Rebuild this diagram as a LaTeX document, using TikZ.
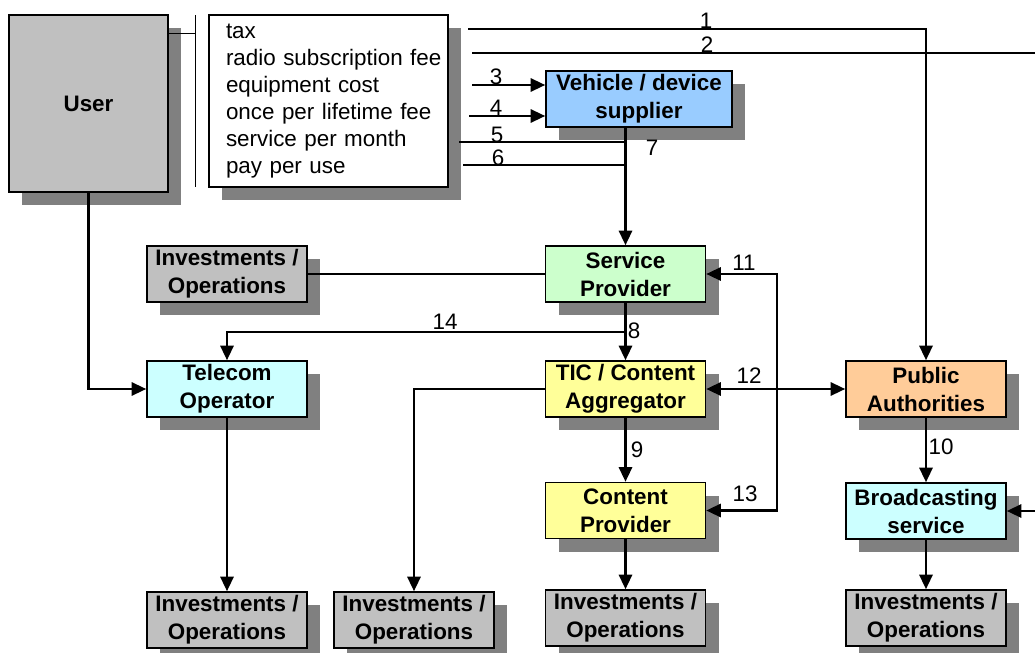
\documentclass[tikz,border=0pt]{standalone}
\usepackage{fontspec}
\setmainfont{Liberation Sans}
\usetikzlibrary{arrows.meta,shadows}

\definecolor{boxgray}{HTML}{C0C0C0}
\definecolor{shadowgray}{HTML}{808080}
\definecolor{vehicleblue}{HTML}{99CCFF}
\definecolor{servicegreen}{HTML}{CCFFCC}
\definecolor{telecomcyan}{HTML}{CCFFFF}
\definecolor{contentyellow}{HTML}{FFFF99}
\definecolor{publicorange}{HTML}{FFCC99}

\begin{document}
\begin{tikzpicture}[x=0.75pt,y=0.75pt,yscale=-1,xscale=1,
  every node/.style={font=\fontsize{16.8}{21}\selectfont},
  boxshadow/.style={drop shadow={shadow xshift=9.75pt,shadow yshift=-9.75pt,fill=shadowgray,opacity=1}},
  actor/.style={draw,line width=1.2pt,boxshadow,minimum width=120pt,minimum height=42pt,
    inner sep=1pt,align=center,font=\fontsize{16.8}{21}\selectfont\bfseries},
  flow/.style={line width=1.7pt},
  arr/.style={flow,-{Triangle[length=11pt,width=10pt]}},
  numlabel/.style={inner sep=0pt}]
\useasboundingbox (0,0) rectangle (1035,653);

% Boxes
\node[actor,fill=boxgray,minimum width=119.25pt,minimum height=132.75pt] (user) at (88.5,103.5) {User};
\node[draw,line width=1.2pt,fill=white,boxshadow,minimum height=129pt,text width=153.75pt,
  inner xsep=12.75pt,align=left,font=\fontsize{16.8}{20.25}\selectfont] (fees) at (328.5,101)
  {\mbox{tax}\\\mbox{radio subscription fee}\\\mbox{equipment cost}\\\mbox{once per lifetime fee}\\\mbox{service per month}\\\mbox{pay per use}};
\node[actor,fill=vehicleblue,minimum width=139.5pt] (vds) at (639,99) {Vehicle / device\\supplier};
\node[actor,fill=servicegreen] (sp) at (625.5,274) {Service\\Provider};
\node[actor,fill=boxgray] (inv1) at (227,274) {Investments /\\Operations};
\node[actor,fill=telecomcyan] (telco) at (227,389) {Telecom\\Operator};
\node[actor,fill=contentyellow] (tic) at (625.5,389) {TIC / Content\\Aggregator};
\node[actor,fill=publicorange] (pa) at (926,389) {Public\\Authorities};
\node[actor,fill=contentyellow] (cp) at (625.5,510.5) {Content\\Provider};
\node[actor,fill=telecomcyan] (bs) at (926,511) {Broadcasting\\service};
\node[actor,fill=boxgray] (inv2) at (227,620) {Investments /\\Operations};
\node[actor,fill=boxgray] (inv3) at (414,620) {Investments /\\Operations};
\node[actor,fill=boxgray] (inv4) at (625.5,618) {Investments /\\Operations};
\node[actor,fill=boxgray] (inv5) at (926,618) {Investments /\\Operations};

% Free ends
\coordinate (bartop) at (195,15);
\coordinate (barbot) at (195,187);
\coordinate (tap) at (195,33);
\coordinate (s1) at (468,29);
\coordinate (s2) at (472,53);
\coordinate (s3) at (472,85);
\coordinate (s4) at (469,116);
\coordinate (s5) at (459,142);
\coordinate (s6) at (463,165);
\coordinate (e2) at (1035,53);
\coordinate (j14) at (625.5,332);
\coordinate (bus) at (777,274);
\coordinate (b0) at (1035,511);

% Connectors
\draw[line width=0.75pt] (bartop) -- (barbot);
\draw[line width=0.75pt] (user.east |- tap) -- (tap);
\draw[arr] (s1) -| (pa.north);
\draw[flow] (s2) -- (e2);
\draw[arr] (s3) -- (s3 -| vds.west);
\draw[arr] (s4) -- (s4 -| vds.west);
\draw[flow] (s5) -- (s5 -| sp.north);
\draw[flow] (s6) -- (s6 -| sp.north);
\draw[arr] (sp.north |- vds.south) -- (sp.north);
\draw[line width=1.2pt] (inv1.east) -- (sp.west);
\draw[arr] (sp.south) -- (tic.north);
\draw[arr] (j14) -| (telco.north);
\draw[arr] (user.south) |- (telco.west);
\draw[arr] (telco.south) -- (inv2.north);
\draw[arr] (tic.west) -| (inv3.north);
\draw[arr] (tic.south) -- (cp.north);
\draw[arr] (cp.south) -- (inv4.north);
\draw[arr,{Triangle[length=11pt,width=10pt]}-{Triangle[length=11pt,width=10pt]}] (tic.east) -- (pa.west);
\draw[arr,{Triangle[length=11pt,width=10pt]}-{Triangle[length=11pt,width=10pt]}] (sp.east) -- (bus) |- (cp.east);
\draw[arr] (pa.south) -- (bs.north);
\draw[arr] (b0) -- (bs.east);
\draw[arr] (bs.south) -- (inv5.north);

% Numbers
\node[numlabel] (n1) at (706,21) {1};
\node[numlabel] (n2) at (707,45) {2};
\node[numlabel] (n3) at (496,77) {3};
\node[numlabel] (n4) at (496,108) {4};
\node[numlabel] (n5) at (497,135) {5};
\node[numlabel] (n6) at (498,158) {6};
\node[numlabel] (n7) at (652,148) {7};
\node[numlabel] (n8) at (634,331) {8};
\node[numlabel] (n9) at (637,450) {9};
\node[numlabel] (n10) at (941,447) {10};
\node[numlabel] (n11) at (744,263) {11};
\node[numlabel] (n12) at (749,376) {12};
\node[numlabel] (n13) at (745,494) {13};
\node[numlabel] (n14) at (445,322) {14};

\end{tikzpicture}
\end{document}
